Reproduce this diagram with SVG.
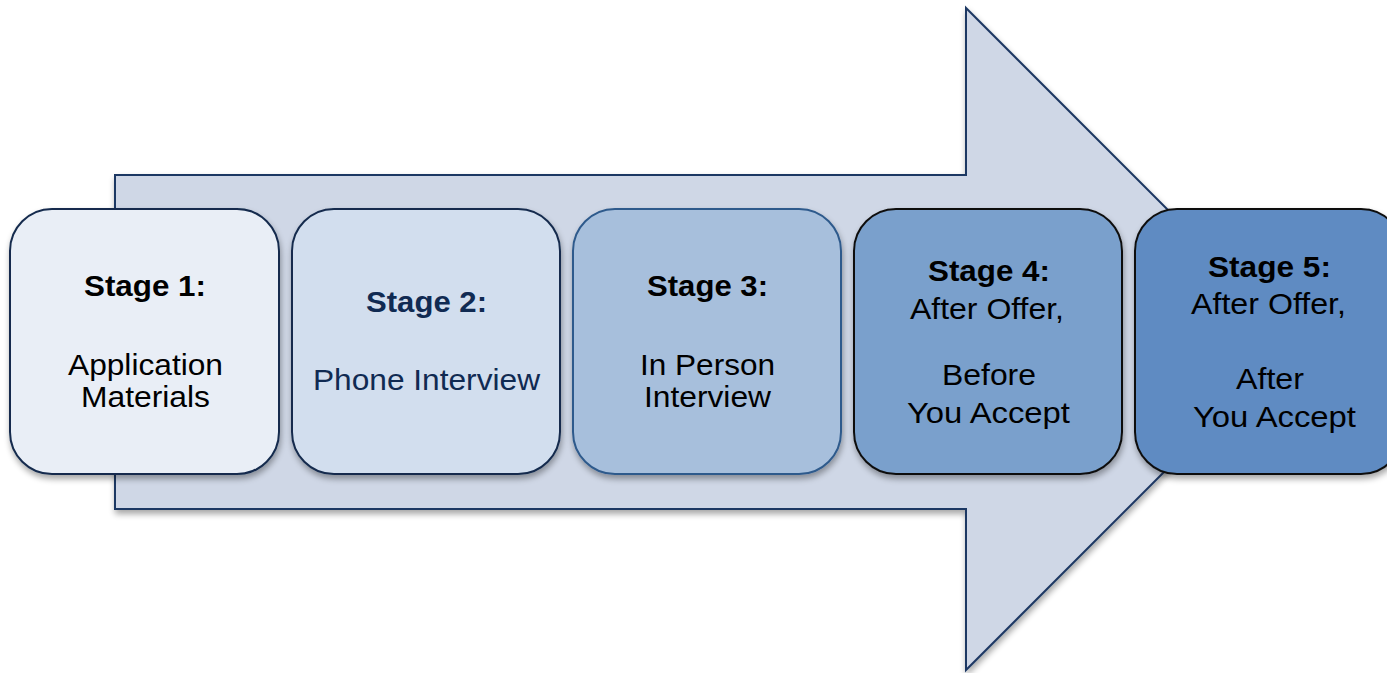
<svg xmlns="http://www.w3.org/2000/svg" width="1387" height="673" viewBox="0 0 1387 673">
<defs>
<filter id="sh" x="-10%" y="-10%" width="120%" height="125%">
<feGaussianBlur in="SourceAlpha" stdDeviation="3"/>
<feOffset dx="1" dy="4" result="b"/>
<feComponentTransfer><feFuncA type="linear" slope="0.35"/></feComponentTransfer>
<feMerge><feMergeNode/><feMergeNode in="SourceGraphic"/></feMerge>
</filter>
<style>
.box{stroke-width:2;filter:url(#sh)}
.t{font-family:"Liberation Sans",Arial,sans-serif;font-size:29px;text-anchor:middle;fill:#000}
.b{font-weight:bold}
.n{fill:#102a52}
</style>
</defs>
<rect width="1387" height="673" fill="#fff"/>
<g id="arrow">
<path d="M115,175 H966 V8 L1297,339 L966,670 V509 H115 Z" fill="#cfd7e6" stroke="#1f3864" stroke-width="2" filter="url(#sh)"/>
</g>
<g id="stage1">
<rect class="box" x="10" y="209" width="269" height="265" rx="42" fill="#e9eef6" stroke="#142c4e"/>
<text class="t b" x="145" y="296" textLength="122" lengthAdjust="spacingAndGlyphs">Stage 1:</text>
<text class="t" x="145.5" y="375" textLength="155" lengthAdjust="spacingAndGlyphs">Application</text>
<text class="t" x="145.5" y="407" textLength="129" lengthAdjust="spacingAndGlyphs">Materials</text>
</g>
<g id="stage2">
<rect class="box" x="292" y="209" width="268" height="265" rx="42" fill="#d2deee" stroke="#142c4e"/>
<text class="t b n" x="426.5" y="312" textLength="121" lengthAdjust="spacingAndGlyphs">Stage 2:</text>
<text class="t n" x="426.5" y="390" textLength="227" lengthAdjust="spacingAndGlyphs">Phone Interview</text>
</g>
<g id="stage3">
<rect class="box" x="573" y="209" width="268" height="265" rx="42" fill="#a7bfdc" stroke="#2e5a8c"/>
<text class="t b" x="707.5" y="296" textLength="121" lengthAdjust="spacingAndGlyphs">Stage 3:</text>
<text class="t" x="707.5" y="375" textLength="135" lengthAdjust="spacingAndGlyphs">In Person</text>
<text class="t" x="707.5" y="407" textLength="127" lengthAdjust="spacingAndGlyphs">Interview</text>
</g>
<g id="stage4">
<rect class="box" x="854" y="209" width="268" height="265" rx="42" fill="#7aa0cc" stroke="#111"/>
<text class="t b" x="989" y="281" textLength="122" lengthAdjust="spacingAndGlyphs">Stage 4:</text>
<text class="t" x="987" y="319" textLength="154" lengthAdjust="spacingAndGlyphs">After Offer,</text>
<text class="t" x="989" y="385" textLength="94" lengthAdjust="spacingAndGlyphs">Before</text>
<text class="t" x="988.5" y="423" textLength="163" lengthAdjust="spacingAndGlyphs">You Accept</text>
</g>
<g id="stage5">
<rect class="box" x="1135" y="209" width="268" height="265" rx="42" fill="#5e8bc2" stroke="#111"/>
<text class="t b" x="1269.5" y="277" textLength="123" lengthAdjust="spacingAndGlyphs">Stage 5:</text>
<text class="t" x="1268.5" y="314" textLength="155" lengthAdjust="spacingAndGlyphs">After Offer,</text>
<text class="t" x="1270" y="389" textLength="68" lengthAdjust="spacingAndGlyphs">After</text>
<text class="t" x="1274.5" y="427" textLength="163" lengthAdjust="spacingAndGlyphs">You Accept</text>
</g>
<g id="connectors"></g>
</svg>
